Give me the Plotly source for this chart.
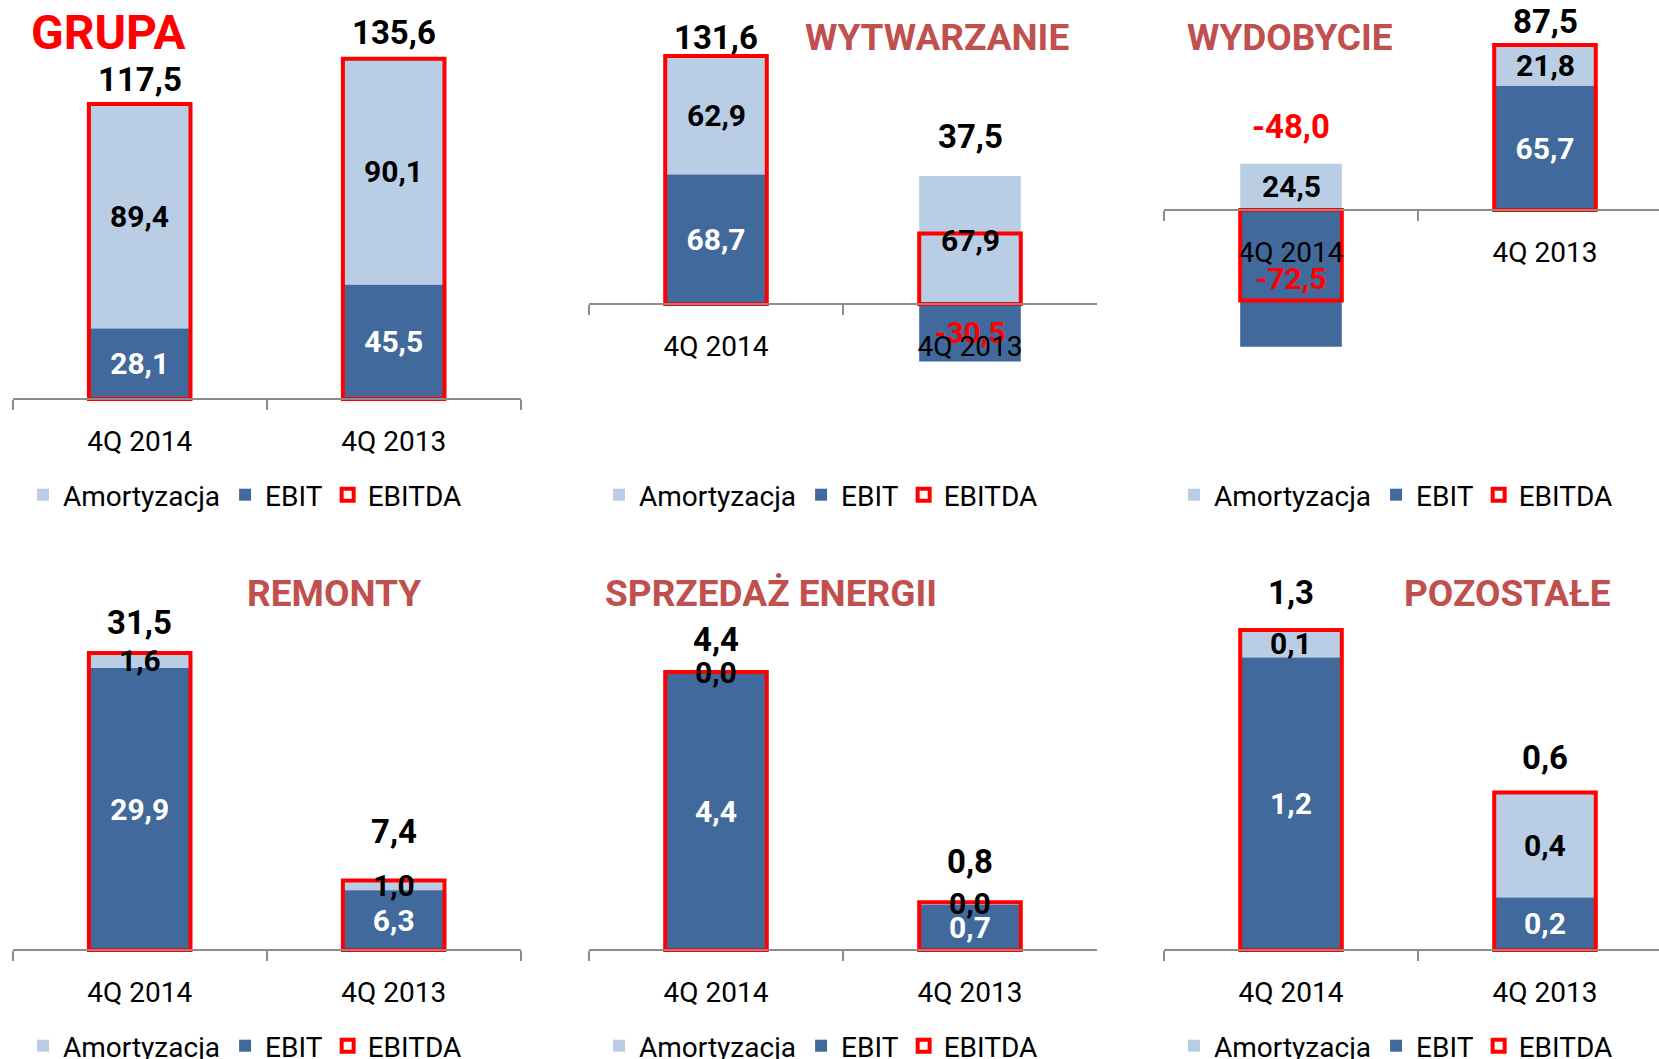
import plotly.graph_objects as go

W, H = 1659, 1059

# ---------------- data ----------------
CATEGORIES = ["4Q 2014", "4Q 2013"]
SERIES_NAMES = ["Amortyzacja", "EBIT", "EBITDA"]
PANEL_TITLES = ["GRUPA", "WYTWARZANIE", "WYDOBYCIE", "REMONTY", "SPRZEDAŻ ENERGII", "POZOSTAŁE"]

EBIT_GRUPA = [28.1, 45.5]
AMORT_GRUPA = [89.4, 90.1]
EBITDA_GRUPA = [117.5, 135.6]

EBIT_WYTWARZANIE = [68.7, -30.46]
AMORT_WYTWARZANIE = [62.9, 67.92]
EBITDA_WYTWARZANIE = [131.6, 37.46]

EBIT_WYDOBYCIE = [-72.5, 65.7]
AMORT_WYDOBYCIE = [24.5, 21.8]
EBITDA_WYDOBYCIE = [-48.0, 87.5]

EBIT_REMONTY = [29.9, 6.34]
AMORT_REMONTY = [1.6, 1.02]
EBITDA_REMONTY = [31.5, 7.36]

EBIT_SPRZEDAZ = [4.4, 0.72]
AMORT_SPRZEDAZ = [0.02, 0.04]
EBITDA_SPRZEDAZ = [4.42, 0.76]

EBIT_POZOSTALE = [1.17, 0.21]
AMORT_POZOSTALE = [0.11, 0.42]
EBITDA_POZOSTALE = [1.28, 0.63]

PANEL_DATA = [
    (EBIT_GRUPA, AMORT_GRUPA, EBITDA_GRUPA),
    (EBIT_WYTWARZANIE, AMORT_WYTWARZANIE, EBITDA_WYTWARZANIE),
    (EBIT_WYDOBYCIE, AMORT_WYDOBYCIE, EBITDA_WYDOBYCIE),
    (EBIT_REMONTY, AMORT_REMONTY, EBITDA_REMONTY),
    (EBIT_SPRZEDAZ, AMORT_SPRZEDAZ, EBITDA_SPRZEDAZ),
    (EBIT_POZOSTALE, AMORT_POZOSTALE, EBITDA_POZOSTALE),
]

# ---------------- style / layout config (pixels) ----------------
C_LIGHT = "#B9CDE5"
C_DARK = "#41699B"
C_RED = "#FF0000"
C_TITLE = "#C0504D"
FONT = "Roboto"

PANEL_LAYOUT = [
    dict(x0=12.7, x1=521, catw=254, zero=399, scale=2.51, top=0, bottom=420,
         title=(109, 33), tsize=48, tcolor=C_RED, leg=(43, 495), gap=[25, 26]),
    dict(x0=589, x1=1097, catw=254, zero=304, scale=1.884, top=0, bottom=420,
         title=(937, 37), tsize=37, tcolor=C_TITLE, leg=(619, 495), gap=[19, 40]),
    dict(x0=1164, x1=1659, catw=254, zero=210, scale=1.886, top=0, bottom=420,
         title=(1290, 37), tsize=37, tcolor=C_TITLE, leg=(1194, 495), gap=[37, 23]),
    dict(x0=12.7, x1=521, catw=254, zero=950, scale=9.43, top=540, bottom=965,
         title=(334, 593), tsize=37, tcolor=C_TITLE, leg=(43, 1046), gap=[30, 49]),
    dict(x0=589, x1=1097, catw=254, zero=950, scale=62.9, top=540, bottom=965,
         title=(771, 593), tsize=37, tcolor=C_TITLE, leg=(619, 1046), gap=[32, 41]),
    dict(x0=1164, x1=1659, catw=254, zero=950, scale=250, top=540, bottom=965,
         title=(1507, 593), tsize=37, tcolor=C_TITLE, leg=(1194, 1046), gap=[38, 35]),
]


def fmt(v):
    return f"{v:.1f}".replace(".", ",")


fig = go.Figure()
annotations = []
layout_axes = {}

for i, ((ebit, amort, ebitda), cfg, title) in enumerate(zip(PANEL_DATA, PANEL_LAYOUT, PANEL_TITLES)):
    n = i + 1
    sfx = "" if n == 1 else str(n)
    xa, ya = "x" + sfx, "y" + sfx
    leg = "legend" + sfx

    amort_base = [max(e, 0) for e in ebit]

    fig.add_trace(go.Bar(
        name=SERIES_NAMES[0], x=CATEGORIES, y=amort, base=amort_base,
        xaxis=xa, yaxis=ya, legend=leg,
        marker=dict(color=C_LIGHT, line=dict(width=0)),
        hoverinfo="skip",
    ))
    fig.add_trace(go.Bar(
        name=SERIES_NAMES[1], x=CATEGORIES, y=ebit, base=[0] * len(ebit),
        xaxis=xa, yaxis=ya, legend=leg,
        marker=dict(color=C_DARK, line=dict(width=0)),
        text=[fmt(v) for v in ebit], textposition="inside", insidetextanchor="middle",
        textangle=0, constraintext="none",
        textfont=dict(family=FONT, size=30, weight="bold",
                      color=["white" if v >= 0 else C_RED for v in ebit]),
        hoverinfo="skip",
    ))
    fig.add_trace(go.Bar(
        name=SERIES_NAMES[2], x=CATEGORIES, y=ebitda, base=[0] * len(ebitda),
        xaxis=xa, yaxis=ya, legend=leg,
        marker=dict(color="rgba(0,0,0,0)", line=dict(color=C_RED, width=4)),
        hoverinfo="skip",
    ))

    for j, cat in enumerate(CATEGORIES):
        # Amortyzacja label, centred on its segment, drawn on top of everything
        annotations.append(dict(
            x=cat, y=amort_base[j] + amort[j] / 2, xref=xa, yref=ya, yanchor="middle",
            showarrow=False, text=fmt(amort[j]),
            font=dict(family=FONT, size=30, weight="bold", color="black"),
        ))
        # EBITDA total label above the stack
        top = max(amort_base[j] + amort[j], ebitda[j])
        annotations.append(dict(
            x=cat, y=top, xref=xa, yref=ya, yanchor="middle", yshift=cfg["gap"][j],
            showarrow=False, text=fmt(ebitda[j]),
            font=dict(family=FONT, size=33, weight="bold",
                      color="black" if ebitda[j] >= 0 else C_RED),
        ))

    # panel title
    annotations.append(dict(
        x=cfg["title"][0] / W, y=1 - cfg["title"][1] / H, xref="paper", yref="paper",
        xanchor="center", yanchor="middle", showarrow=False, text=title,
        font=dict(family=FONT, size=cfg["tsize"], weight="bold", color=cfg["tcolor"]),
    ))

    ymax = (cfg["zero"] - cfg["top"]) / cfg["scale"]
    ymin = -(cfg["bottom"] - cfg["zero"]) / cfg["scale"]
    xmax = -0.5 + (cfg["x1"] - cfg["x0"]) / cfg["catw"]

    layout_axes["xaxis" + sfx] = dict(
        domain=[cfg["x0"] / W, cfg["x1"] / W], range=[-0.5, xmax],
        type="category", anchor="free", position=1 - cfg["zero"] / H,
        showline=True, linecolor="#8C8C8C", linewidth=2,
        ticks="outside", tickson="boundaries", ticklen=10, tickcolor="#8C8C8C", tickwidth=2,
        tickfont=dict(family=FONT, size=28, color="black"), ticklabelstandoff=17,
        showgrid=False, zeroline=False, fixedrange=True,
    )
    layout_axes["yaxis" + sfx] = dict(
        domain=[1 - cfg["bottom"] / H, 1 - cfg["top"] / H], range=[ymin, ymax],
        visible=False, showgrid=False, zeroline=False, fixedrange=True,
    )
    layout_axes[leg] = dict(
        orientation="h", x=(cfg["leg"][0] - 20) / W, y=1 - cfg["leg"][1] / H,
        xanchor="left", yanchor="middle", bgcolor="rgba(0,0,0,0)",
        font=dict(family=FONT, size=28, color="black"), traceorder="normal",
    )

fig.update_layout(
    width=W, height=H,
    margin=dict(l=0, r=0, t=0, b=0, autoexpand=False),
    paper_bgcolor="white", plot_bgcolor="white",
    barmode="overlay", bargap=0.6,
    showlegend=True,
    annotations=annotations,
    **layout_axes,
)

fig.write_html(
    "out.html",
    config={"displayModeBar": False},
    post_script="document.body.style.margin='0px';document.body.style.overflow='hidden';",
)
